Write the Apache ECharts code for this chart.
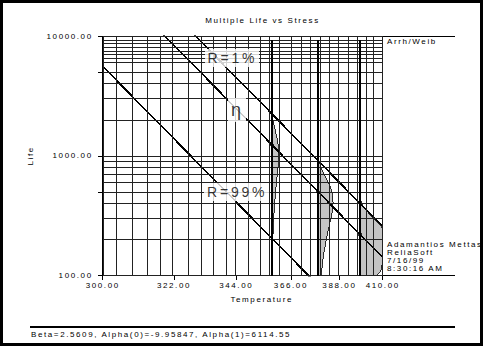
<!DOCTYPE html>
<html>
<head>
<meta charset="utf-8">
<script src="https://cdn.jsdelivr.net/npm/echarts@6/dist/echarts.min.js"></script>
<style>
html,body{margin:0;padding:0;background:#fff;}
#chart{width:485px;height:347px;}
#chart text{letter-spacing:0.2em;}
#chart path, #chart line, #chart polyline, #chart polygon, #chart rect{shape-rendering:crispEdges;}
</style>
</head>
<body>
<div id="chart"></div>
<script>
// ---------------- data ----------------
const xTickTemps = [300, 322, 344, 366, 388, 410];
const xGridTemps = [300, 304.4, 308.8, 313.2, 317.6, 322, 326.4, 330.8, 335.2, 339.6, 344,
  348.4, 352.8, 357.2, 361.6, 366, 370.4, 374.8, 379.2, 383.6, 388, 392.4, 396.8, 401.2, 405.6, 410];
const yTickLabelLives = [100, 1000, 10000];
const yTickMarkLives = [100, 500, 1000, 5000, 10000];
const yGridLives = [100, 200, 300, 400, 500, 600, 700, 800, 900, 1000, 2000, 3000, 4000, 5000,
  6000, 6500, 7000, 7500, 8000, 8700, 9300, 10000];

const lineTemps = [300, 410];
const lifeR1 = [61090, 257.6];
const lifeEta = [33650, 141.9];
const lifeR99 = [5583, 23.54];

const stressTemps = [358, 378, 398];
const etaAtStress = [1238, 501, 222.4];
const stressLineTopLife = 9300;

// pdf: [life, density (x1e-3)]
const pdf358 = [[62,0.019],[124,0.057],[248,0.165],[371,0.302],[495,0.450],[619,0.592],[743,0.711],
  [867,0.794],[990,0.830],[1114,0.818],[1238,0.761],[1362,0.670],[1486,0.558],[1609,0.440],
  [1733,0.328],[1981,0.154],[2228,0.057],[2476,0.017],[2847,0.002]];
const pdf378 = [[50,0.140],[100,0.408],[150,0.746],[200,1.111],[251,1.463],[301,1.758],[351,1.962],
  [401,2.051],[451,2.021],[501,1.880],[551,1.655],[601,1.379],[651,1.086],[701,0.810],[802,0.380],
  [902,0.141],[1002,0.041],[1152,0.004]];
const pdf398 = [[22,0.316],[44,0.919],[67,1.679],[89,2.503],[111,3.295],[133,3.959],[156,4.419],
  [178,4.621],[200,4.552],[222,4.236],[245,3.728],[267,3.106],[289,2.447],[311,1.825],[356,0.857],
  [400,0.319],[445,0.093],[512,0.009]];
const pdfs = [pdf358, pdf378, pdf398];

const annoNames = ['R=1%', 'η', 'R=99%'];
const annoTemps = [342.4, 344.2, 344.2];
const annoLives = [6515, 2413, 499];

const titleText = 'Multiple Life vs Stress';
const modelText = 'Arrh/Weib';
const infoText = 'Adamantios Mettas\nReliaSoft\n7/16/99\n8:30:16 AM';
const paramText = 'Beta=2.5609, Alpha(0)=-9.95847, Alpha(1)=6114.55';

// ---------------- rendering ----------------
const FONT = '"Liberation Sans", Arial, Helvetica, sans-serif';
const PDF_SCALE = 3.4; // kelvin per density unit
const inv = T => -1000 / T;

if (echarts.setPlatformAPI) {
  const mctx = document.createElement('canvas').getContext('2d');
  echarts.setPlatformAPI({
    measureText: function (text, font) {
      text = text || '';
      mctx.font = font || '12px sans-serif';
      const m = mctx.measureText(text);
      const mm = /([\d.]+)px/.exec(font || '12px');
      const fs = mm ? parseFloat(mm[1]) : 12;
      return { width: m.width + 0.2 * fs * text.length };
    }
  });
}

const chart = echarts.init(document.getElementById('chart'), null, { renderer: 'svg' });

const txt = { fontFamily: FONT, fontSize: 8, color: '#000' };

const option = {
  animation: false,
  backgroundColor: '#fff',
  title: {
    text: titleText, left: 257.5, top: 11, textAlign: 'center',
    textStyle: { fontFamily: FONT, fontSize: 8, fontWeight: 'normal', color: '#000' }
  },
  grid: { left: 102.7, right: 102.3, top: 36, bottom: 71.3 },
  xAxis: {
    type: 'value', min: inv(300), max: inv(410),
    name: 'Temperature', nameLocation: 'middle', nameGap: 11,
    nameTextStyle: Object.assign({}, txt, { padding: [0, 0, 0, 38] }),
    axisLine: { show: true, lineStyle: { color: '#000', width: 1 } },
    axisTick: { show: true, length: 4, customValues: xTickTemps.map(inv), lineStyle: { color: '#000' } },
    axisLabel: Object.assign({}, txt, {
      margin: 5, customValues: xTickTemps.map(inv),
      formatter: v => (-1000 / v).toFixed(2)
    }),
    splitLine: { show: false }
  },
  yAxis: {
    type: 'log', logBase: 10, min: 100, max: 10000,
    name: 'Life', nameLocation: 'middle', nameGap: 59, nameRotate: 90,
    nameTextStyle: txt,
    axisLine: { show: true, lineStyle: { color: '#000', width: 1 } },
    axisTick: { show: true, length: 5, customValues: yTickMarkLives, lineStyle: { color: '#000' } },
    axisLabel: Object.assign({}, txt, {
      margin: 10, customValues: yTickLabelLives,
      formatter: v => Number(v).toFixed(2)
    }),
    splitLine: { show: false }
  },
  graphic: [
    { type: 'rect', silent: true, shape: { x: 1.5, y: 1.5, width: 480, height: 343 },
      style: { fill: 'none', stroke: '#000', lineWidth: 3 } },
    { type: 'line', silent: true, shape: { x1: 382.7, y1: 36, x2: 455, y2: 36 },
      style: { stroke: '#000', lineWidth: 1 } },
    { type: 'line', silent: true, shape: { x1: 382.7, y1: 275.7, x2: 455, y2: 275.7 },
      style: { stroke: '#000', lineWidth: 1 } },
    { type: 'line', silent: true, shape: { x1: 30, y1: 327, x2: 455, y2: 327 },
      style: { stroke: '#000', lineWidth: 1.2 } },
    { type: 'text', silent: true, style: { x: 387, y: 41, text: modelText, fill: '#000',
      font: '8px ' + FONT, verticalAlign: 'middle' } },
    { type: 'text', silent: true, style: { x: 387, y: 241, text: infoText, fill: '#000',
      font: '8px ' + FONT, lineHeight: 7.8, verticalAlign: 'top' } },
    { type: 'text', silent: true, style: { x: 31, y: 334, text: paramText, fill: '#000',
      font: '8px ' + FONT, verticalAlign: 'middle' } }
  ],
  series: [
    { // pdf shapes
      type: 'custom', z: 1, clip: true, silent: true,
      data: stressTemps.map((t, i) => [inv(t), etaAtStress[i]]),
      renderItem: function (params, api) {
        const i = params.dataIndex;
        const T = stressTemps[i];
        const pts = pdfs[i];
        const cs = params.coordSys;
        const right = cs.x + cs.width, bottom = cs.y + cs.height, top = cs.y;
        const clamp = p => [Math.min(p[0], right), Math.min(Math.max(p[1], top), bottom)];
        const poly = [clamp(api.coord([inv(T), pts[0][0]]))];
        pts.forEach(p => poly.push(clamp(api.coord([inv(T + PDF_SCALE * p[1]), p[0]]))));
        poly.push(clamp(api.coord([inv(T), pts[pts.length - 1][0]])));
        return { type: 'polygon', shape: { points: poly },
          style: { fill: '#c4c4c4', stroke: '#000', lineWidth: 0.8 } };
      }
    },
    { // grid
      type: 'line', z: 2, silent: true, symbol: 'none', data: [[inv(300), 100]],
      lineStyle: { width: 0 },
      markLine: {
        silent: true, animation: false, symbol: ['none', 'none'], label: { show: false },
        lineStyle: { color: '#222', width: 1, type: 'solid' },
        data: xGridTemps.map(t => ({ xAxis: inv(t) })).concat(yGridLives.map(v => ({ yAxis: v })))
      }
    },
    { // stress lines
      type: 'line', z: 3, silent: true, symbol: 'none', data: [[inv(300), 100]],
      lineStyle: { width: 0 },
      markLine: {
        silent: true, animation: false, symbol: ['none', 'none'], label: { show: false },
        lineStyle: { color: '#000', width: 1.6, type: 'solid' },
        data: stressTemps.map(t => [{ coord: [inv(t), 100] }, { coord: [inv(t), stressLineTopLife] }])
      }
    },
    { type: 'line', z: 4, silent: true, symbol: 'none', clip: true,
      data: lineTemps.map((t, i) => [inv(t), lifeR1[i]]), lineStyle: { color: '#000', width: 1.6 } },
    { type: 'line', z: 4, silent: true, symbol: 'none', clip: true,
      data: lineTemps.map((t, i) => [inv(t), lifeEta[i]]), lineStyle: { color: '#000', width: 1.6 } },
    { type: 'line', z: 4, silent: true, symbol: 'none', clip: true,
      data: lineTemps.map((t, i) => [inv(t), lifeR99[i]]), lineStyle: { color: '#000', width: 1.6 } },
    { type: 'scatter', z: 5, silent: true, symbolSize: 4, itemStyle: { color: '#000' },
      data: stressTemps.map((t, i) => [inv(t), etaAtStress[i]]) },
    { // annotations
      type: 'scatter', z: 6, silent: true, symbolSize: 1, itemStyle: { color: 'rgba(0,0,0,0)' },
      label: { show: true, position: 'inside', formatter: '{b}', fontFamily: FONT, fontSize: 14,
        color: '#000', backgroundColor: '#fff', padding: [1, 2, 0, 3] },
      data: annoNames.map((n, i) => ({
        name: n, value: [inv(annoTemps[i]), annoLives[i]],
        label: n === 'η' ? { fontSize: 18, padding: [0, 1, 2, 3] } : undefined
      }))
    }
  ]
};
chart.setOption(option);
</script>
</body>
</html>
